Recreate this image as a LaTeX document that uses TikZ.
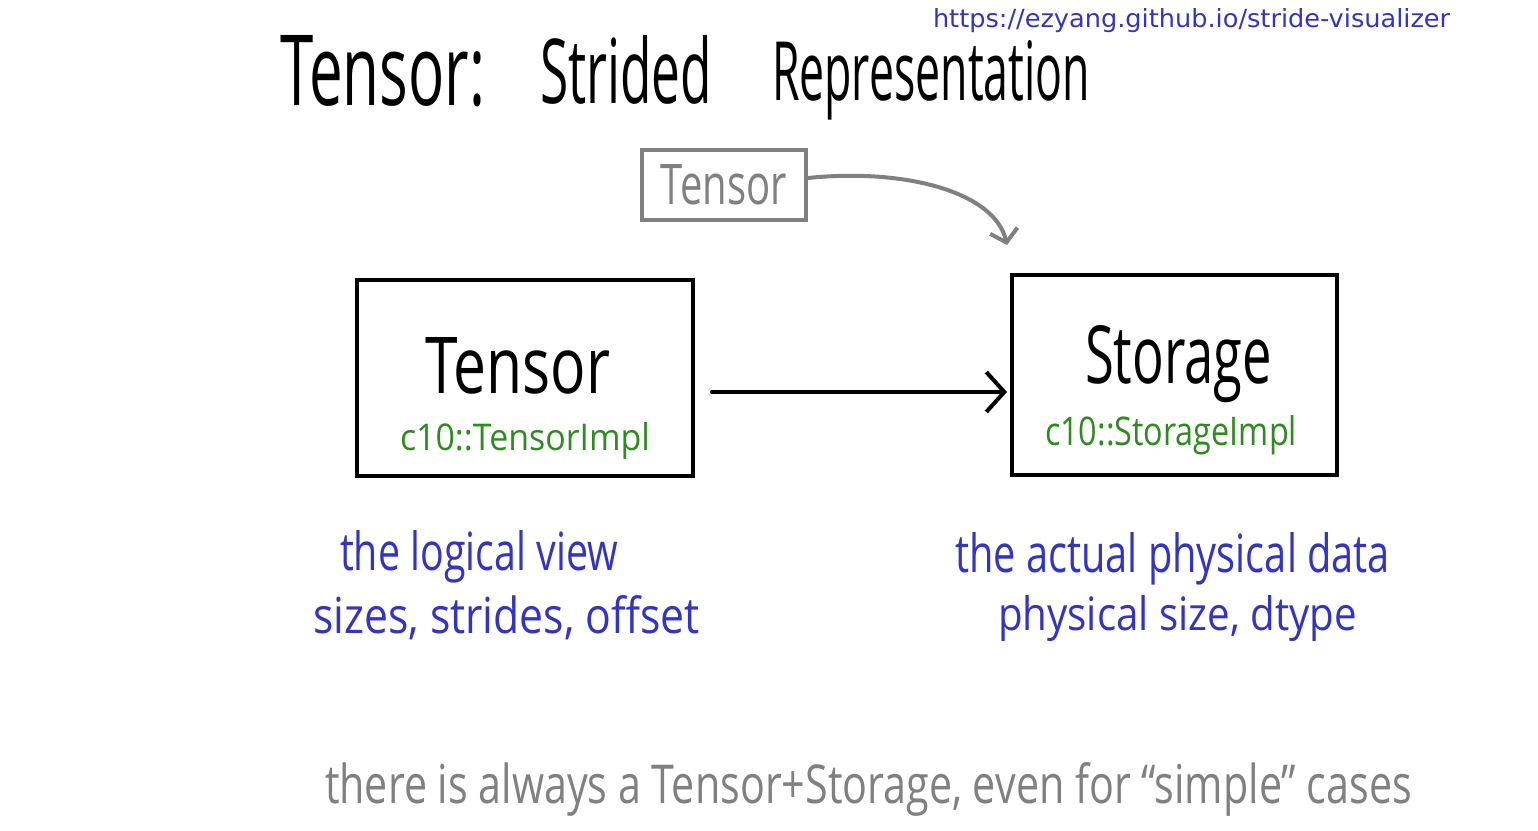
\documentclass[tikz,border=0pt]{standalone}
\usepackage{fontspec}
\setmainfont{Open Sans}
\newfontfamily\urlfont{DejaVu Sans}
\usetikzlibrary{arrows.meta}
\definecolor{hwblue}{HTML}{3434C4}
\definecolor{hwgreen}{HTML}{2F8A1F}
\definecolor{hwgray}{HTML}{808080}
\newcommand{\fitt}[3]{\resizebox{#1pt}{#2pt}{#3}}
\begin{document}
\begin{tikzpicture}[x=1pt,y=-1pt,
  txt/.style={anchor=base west, inner sep=0pt, outer sep=0pt},
  bigbox/.style={draw=black, line width=4pt, inner sep=0pt, rectangle},
  graybox/.style={draw=hwgray, line width=4pt, inner sep=0pt, rectangle, text=hwgray},
  blackarrow/.style={line width=4pt, line cap=round, -{Straight Barb[length=18pt,width=40pt]}},
  grayarrow/.style={draw=hwgray, line width=4pt, line cap=round, -{Straight Barb[length=12pt,width=28pt]}}
]
\useasboundingbox[fill=white] (0,0) rectangle (1538,830);

% title
\node[txt] (t1) at (280,105) {\fitt{205}{70}{Tensor:}};
\node[txt] (t2) at (540,103) {\fitt{172}{68}{Strided}};
\node[txt] (t3) at (772,100) {\fitt{318}{60}{Representation}};

% url
\node[txt, text=hwblue] (url) at (933,27) {\fitt{517}{19}{\urlfont https://ezyang.github.io/stride-visualizer}};

% small gray box
\node[graybox, minimum width=164pt, minimum height=70pt] (smallbox) at (724,185) {\fitt{126}{40}{Tensor}};
\coordinate (garrowend) at (1007,245);
\draw[grayarrow] ([yshift=7pt]smallbox.east) .. controls (905,168) and (995,192) .. (garrowend);

% main boxes
\node[bigbox, minimum width=336pt, minimum height=196pt] (tensorbox) at (525,378) {};
\node[bigbox, minimum width=325pt, minimum height=200pt] (storagebox) at (1174.5,375) {};

\node[txt] (tensorlbl) at (425,393) {\fitt{185}{56}{Tensor}};
\node[txt, text=hwgreen] (tensorimpl) at (400,450) {\fitt{250}{28}{c10::TensorImpl}};
\node[txt] (storagelbl) at (1085,383) {\fitt{187}{58}{Storage}};
\node[txt, text=hwgreen] (storageimpl) at (1045,445) {\fitt{252}{30}{c10::StorageImpl}};

\draw[blackarrow, shorten <=17pt, shorten >=3pt] ([yshift=-14pt]tensorbox.east) -- ([yshift=-14pt]tensorbox.east -| storagebox.west);

% blue descriptions
\node[txt, text=hwblue] (l1) at (340,570) {\fitt{278}{40}{the logical view}};
\node[txt, text=hwblue] (l2) at (313,633) {\fitt{387}{38}{sizes, strides, offset}};
\node[txt, text=hwblue] (r1) at (955,572) {\fitt{435}{40}{the actual physical data}};
\node[txt, text=hwblue] (r2) at (998,630) {\fitt{359}{35}{physical size, dtype}};

% bottom note
\node[txt, text=hwgray] (note) at (325,803) {\fitt{1087}{41}{there is always a Tensor+Storage, even for “simple” cases}};
\end{tikzpicture}
\end{document}
